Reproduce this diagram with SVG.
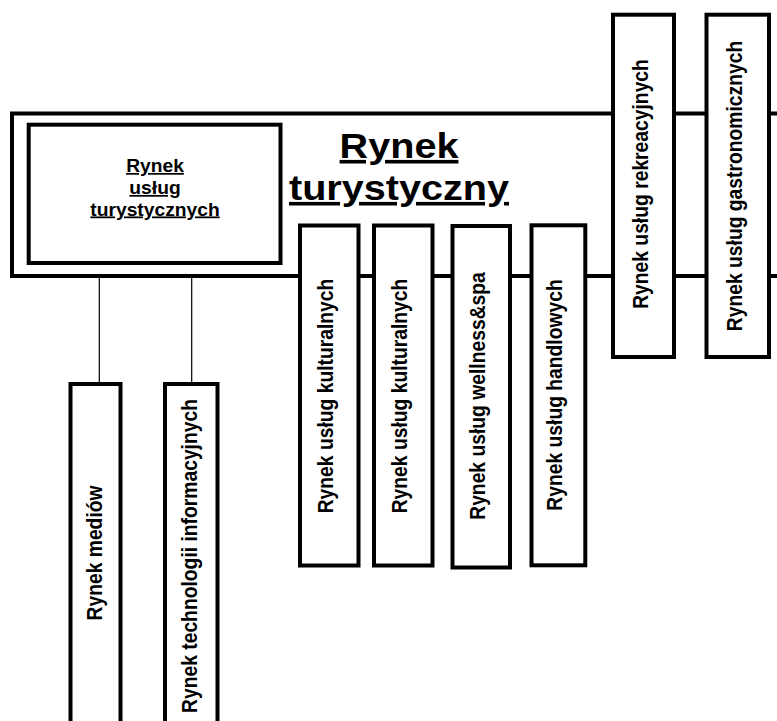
<svg xmlns="http://www.w3.org/2000/svg" width="777" height="721" viewBox="0 0 777 721">
<style>
  .box { fill: #fff; stroke: #000; stroke-width: 4; }
  .frame { fill: none; stroke: #000; stroke-width: 4; }
  .thin { fill: none; stroke: #000; stroke-width: 1.2; }
  text { font-family: "Liberation Sans", Arial, sans-serif; font-weight: bold; fill: #000; }
  .vt { font-size: 19.3px; text-anchor: middle; }
  .head { font-size: 36px; text-anchor: middle; text-decoration: underline; }
  .inner { font-size: 17.5px; text-anchor: middle; text-decoration: underline; }
</style>
<rect width="777" height="721" fill="#fff"/>

<g id="rynek-turystyczny">
  <path class="frame" d="M 790 113.5 H 12 V 276 H 790"/>
  <text class="head" transform="translate(399,158) scale(1.1,1)">Rynek</text>
  <text class="head" transform="translate(399,200) scale(1.1,1)">turystyczny</text>
</g>

<g id="connectors">
  <line class="thin" x1="99.3" y1="278" x2="99.3" y2="383"/>
  <line class="thin" x1="191.7" y1="278" x2="191.7" y2="383"/>
</g>

<g id="uslugi-turystyczne">
  <rect class="box" x="28.7" y="124.7" width="251.8" height="138.3"/>
  <text class="inner" transform="translate(155,172) scale(1.1,1)">Rynek</text>
  <text class="inner" transform="translate(155,194) scale(1.1,1)">usług</text>
  <text class="inner" transform="translate(155,215.5) scale(1.1,1)">turystycznych</text>
</g>

<g id="kulturalne-1">
  <rect class="box" x="300" y="225.5" width="58.5" height="340"/>
  <text class="vt" transform="translate(332.5,396) scale(1.15,1) rotate(-90)">Rynek usług kulturalnych</text>
</g>
<g id="kulturalne-2">
  <rect class="box" x="374" y="225.5" width="58.5" height="340"/>
  <text class="vt" transform="translate(406.5,396) scale(1.15,1) rotate(-90)">Rynek usług kulturalnych</text>
</g>
<g id="wellness-spa">
  <rect class="box" x="452.5" y="226" width="57.5" height="341.5"/>
  <text class="vt" transform="translate(485,396) scale(1.15,1) rotate(-90)">Rynek usług wellness&amp;spa</text>
</g>
<g id="handlowe">
  <rect class="box" x="531.5" y="225.3" width="53.8" height="340"/>
  <text class="vt" transform="translate(562,395) scale(1.15,1) rotate(-90)">Rynek usług handlowych</text>
</g>
<g id="rekreacyjne">
  <rect class="box" x="613" y="14.7" width="61" height="342.3"/>
  <text class="vt" transform="translate(648,184) scale(1.15,1) rotate(-90)">Rynek usług rekreacyjnych</text>
</g>
<g id="gastronomiczne">
  <rect class="box" x="706.5" y="14.7" width="62.5" height="342.3"/>
  <text class="vt" transform="translate(742,186) scale(1.15,1) rotate(-90)">Rynek usług gastronomicznych</text>
</g>
<g id="media">
  <rect class="box" x="70.5" y="384" width="50" height="345"/>
  <text class="vt" transform="translate(101.5,553) scale(1.15,1) rotate(-90)">Rynek mediów</text>
</g>
<g id="technologie-informacyjne">
  <rect class="box" x="165" y="384" width="52.5" height="345"/>
  <text class="vt" transform="translate(197,556) scale(1.15,1) rotate(-90)">Rynek technologii informacyjnych</text>
</g>
</svg>
